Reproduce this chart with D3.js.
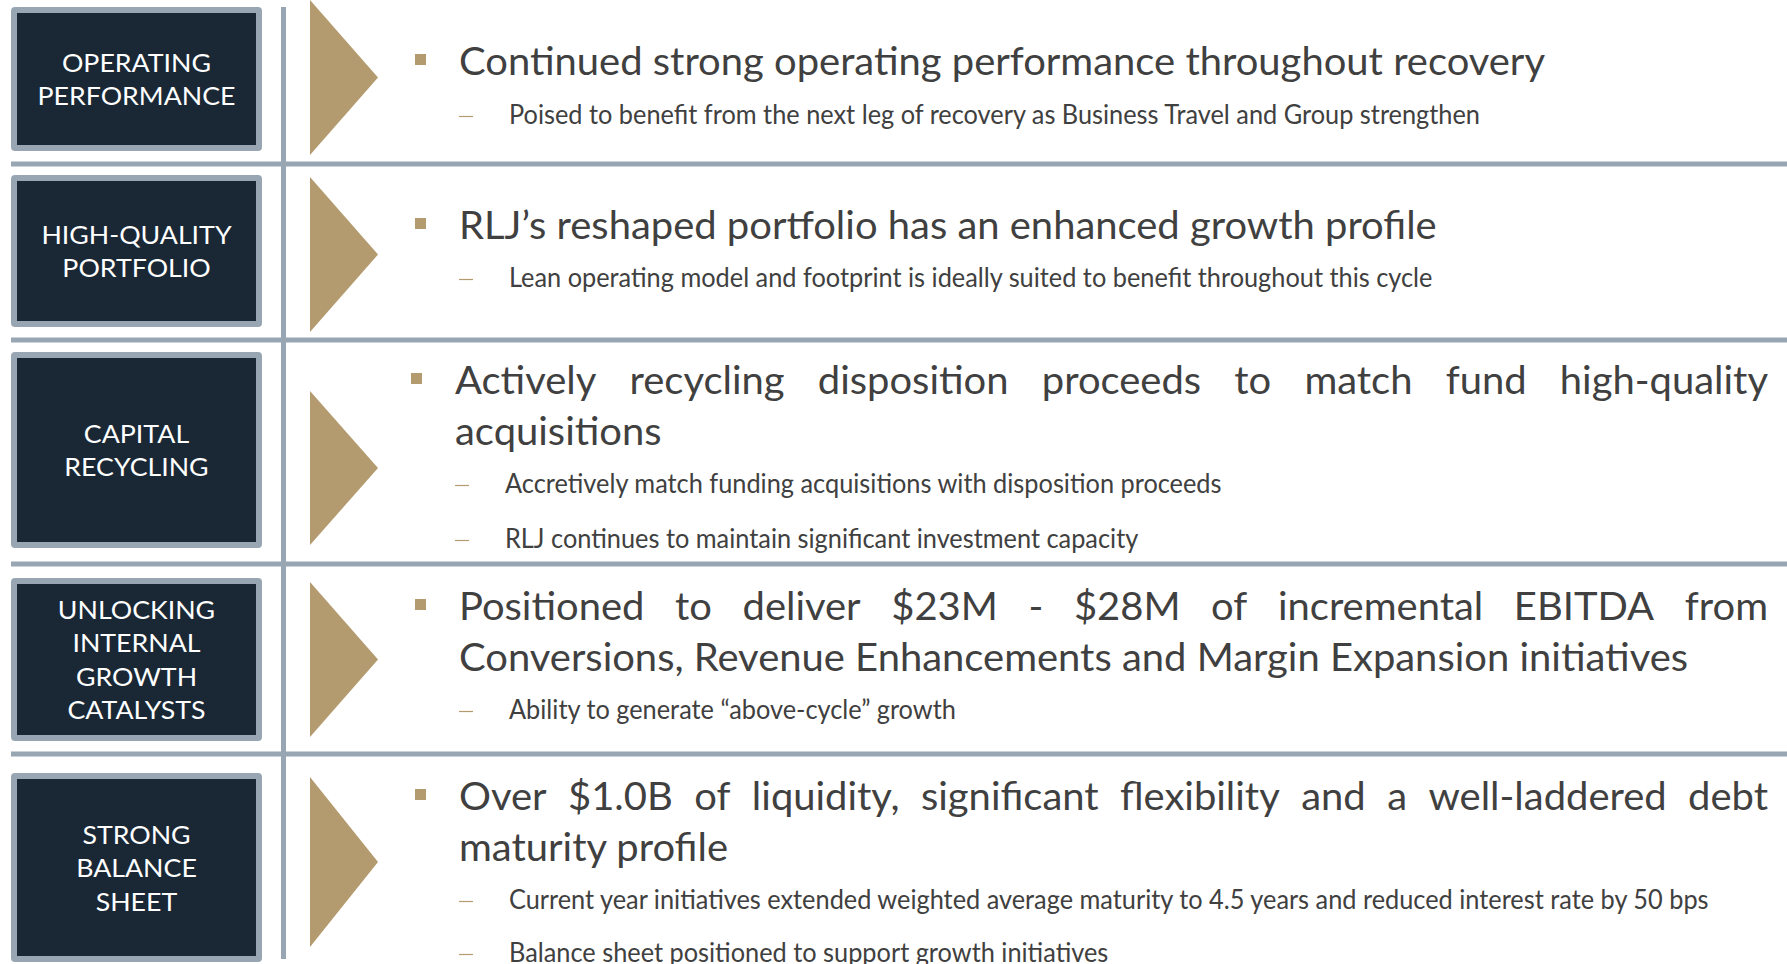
<!DOCTYPE html>
<html>
<head>
<meta charset="utf-8">
<script src="https://cdn.jsdelivr.net/npm/d3@7"></script>
<style>
  body { margin: 0; background: #fff; }
  text { font-family: Lato, "Open Sans", sans-serif; }
</style>
</head>
<body>
<script>
// Slide content
const labels = [
  ["OPERATING", "PERFORMANCE"],
  ["HIGH-QUALITY", "PORTFOLIO"],
  ["CAPITAL", "RECYCLING"],
  ["UNLOCKING", "INTERNAL", "GROWTH", "CATALYSTS"],
  ["STRONG", "BALANCE", "SHEET"]
];
const headlines = [
  ["Continued strong operating performance throughout recovery"],
  ["RLJ\u2019s reshaped portfolio has an enhanced growth profile"],
  ["Actively recycling disposition proceeds to match fund high-quality", "acquisitions"],
  ["Positioned to deliver $23M - $28M of incremental EBITDA from", "Conversions, Revenue Enhancements and Margin Expansion initiatives"],
  ["Over $1.0B of liquidity, significant flexibility and a well-laddered debt", "maturity profile"]
];
const subpoints = [
  ["Poised to benefit from the next leg of recovery as Business Travel and Group strengthen"],
  ["Lean operating model and footprint is ideally suited to benefit throughout this cycle"],
  ["Accretively match funding acquisitions with disposition proceeds", "RLJ continues to maintain significant investment capacity"],
  ["Ability to generate \u201cabove-cycle\u201d growth"],
  ["Current year initiatives extended weighted average maturity to 4.5 years and reduced interest rate by 50 bps", "Balance sheet positioned to support growth initiatives"]
];

const W = 1787, H = 964;
const navy = "#1a2836", steel = "#98a6b4", gold = "#b39b6f", ink = "#404040";

// layout
const boxY = [[7, 151], [175, 327], [352, 548], [578, 741], [773, 962]];
const sepY = [164, 340, 564, 754];
const triY = [[0, 155], [177, 332], [391, 545], [582, 737], [777, 947]];
const headY = [[75], [239], [394, 445], [620, 671], [810, 861]];
const subY = [[124], [287], [493, 548], [719], [909, 962]];
const textX = [459, 459, 455, 459, 459];
const rightEdge = 1768;

const svg = d3.select("body").append("svg")
  .attr("width", W).attr("height", H);

// measure helper
const probe = svg.append("text").attr("x", -9999).attr("y", -9999);
function measure(str, size) {
  probe.attr("font-size", size).text(str);
  return probe.node().getComputedTextLength();
}
const headSize = 39, subSize = 26, labSize = 25;
const kHead = 1086 / measure(headlines[0][0], headSize);
const kSub = 971 / measure(subpoints[0][0], subSize);
const kLab = 198 / measure("PERFORMANCE", labSize);

function fitted(g, str, x, y, size, k) {
  const w = measure(str, size) * k;
  g.append("text").attr("x", x).attr("y", y)
    .attr("font-size", size)
    .attr("textLength", w).attr("lengthAdjust", "spacingAndGlyphs")
    .text(str);
  return w;
}

// grid lines
svg.append("g").selectAll("rect").data(sepY).join("rect")
  .attr("x", 11).attr("y", d => d - 2.5).attr("width", W - 11).attr("height", 5)
  .attr("fill", steel);
svg.append("rect").attr("x", 281).attr("y", 7).attr("width", 5).attr("height", 952)
  .attr("fill", steel);

// label boxes
const boxes = svg.append("g");
labels.forEach((lines, i) => {
  const [y0, y1] = boxY[i];
  boxes.append("rect").attr("x", 11).attr("y", y0).attr("width", 251).attr("height", y1 - y0)
    .attr("rx", 4).attr("fill", steel);
  boxes.append("rect").attr("x", 17).attr("y", y0 + 6).attr("width", 239).attr("height", y1 - y0 - 12)
    .attr("fill", navy);
  const cy = (y0 + y1) / 2, lh = 33.5;
  lines.forEach((ln, j) => {
    const w = measure(ln, labSize) * kLab;
    boxes.append("text")
      .attr("x", 136.5 - w / 2)
      .attr("y", cy - (lines.length - 1) * lh / 2 + j * lh + 9.5)
      .attr("font-size", labSize).attr("fill", "#fff")
      .attr("textLength", w).attr("lengthAdjust", "spacingAndGlyphs")
      .text(ln);
  });
});

// arrows
svg.append("g").selectAll("path").data(triY).join("path")
  .attr("d", d => `M310,${d[0]}L378,${(d[0] + d[1]) / 2}L310,${d[1]}Z`)
  .attr("fill", gold);

// bullet text
const body = svg.append("g").attr("fill", ink);
headlines.forEach((lines, i) => {
  const x0 = textX[i];
  const by = headY[i][0];
  body.append("rect").attr("x", x0 - 44).attr("y", by - 21).attr("width", 11).attr("height", 11)
    .attr("fill", gold);
  lines.forEach((ln, j) => {
    const y = headY[i][j];
    if (j < lines.length - 1) {
      // justified line: spread words to the right edge
      const words = ln.split(" ");
      const ws = words.map(w => measure(w, headSize) * kHead);
      const gap = (rightEdge - x0 - d3.sum(ws)) / (words.length - 1);
      let x = x0;
      words.forEach((w, k) => {
        body.append("text").attr("x", x).attr("y", y).attr("font-size", headSize)
          .attr("textLength", ws[k]).attr("lengthAdjust", "spacingAndGlyphs").text(w);
        x += ws[k] + gap;
      });
    } else {
      fitted(body, ln, x0, y, headSize, kHead);
    }
  });
  subpoints[i].forEach((s, j) => {
    const y = subY[i][j];
    body.append("line").attr("x1", x0).attr("x2", x0 + 14)
      .attr("y1", y - 7.5).attr("y2", y - 7.5)
      .attr("stroke", gold).attr("stroke-width", 1.2);
    fitted(body, s, x0 + 50, y, subSize, kSub);
  });
});
probe.remove();
</script>
</body>
</html>
